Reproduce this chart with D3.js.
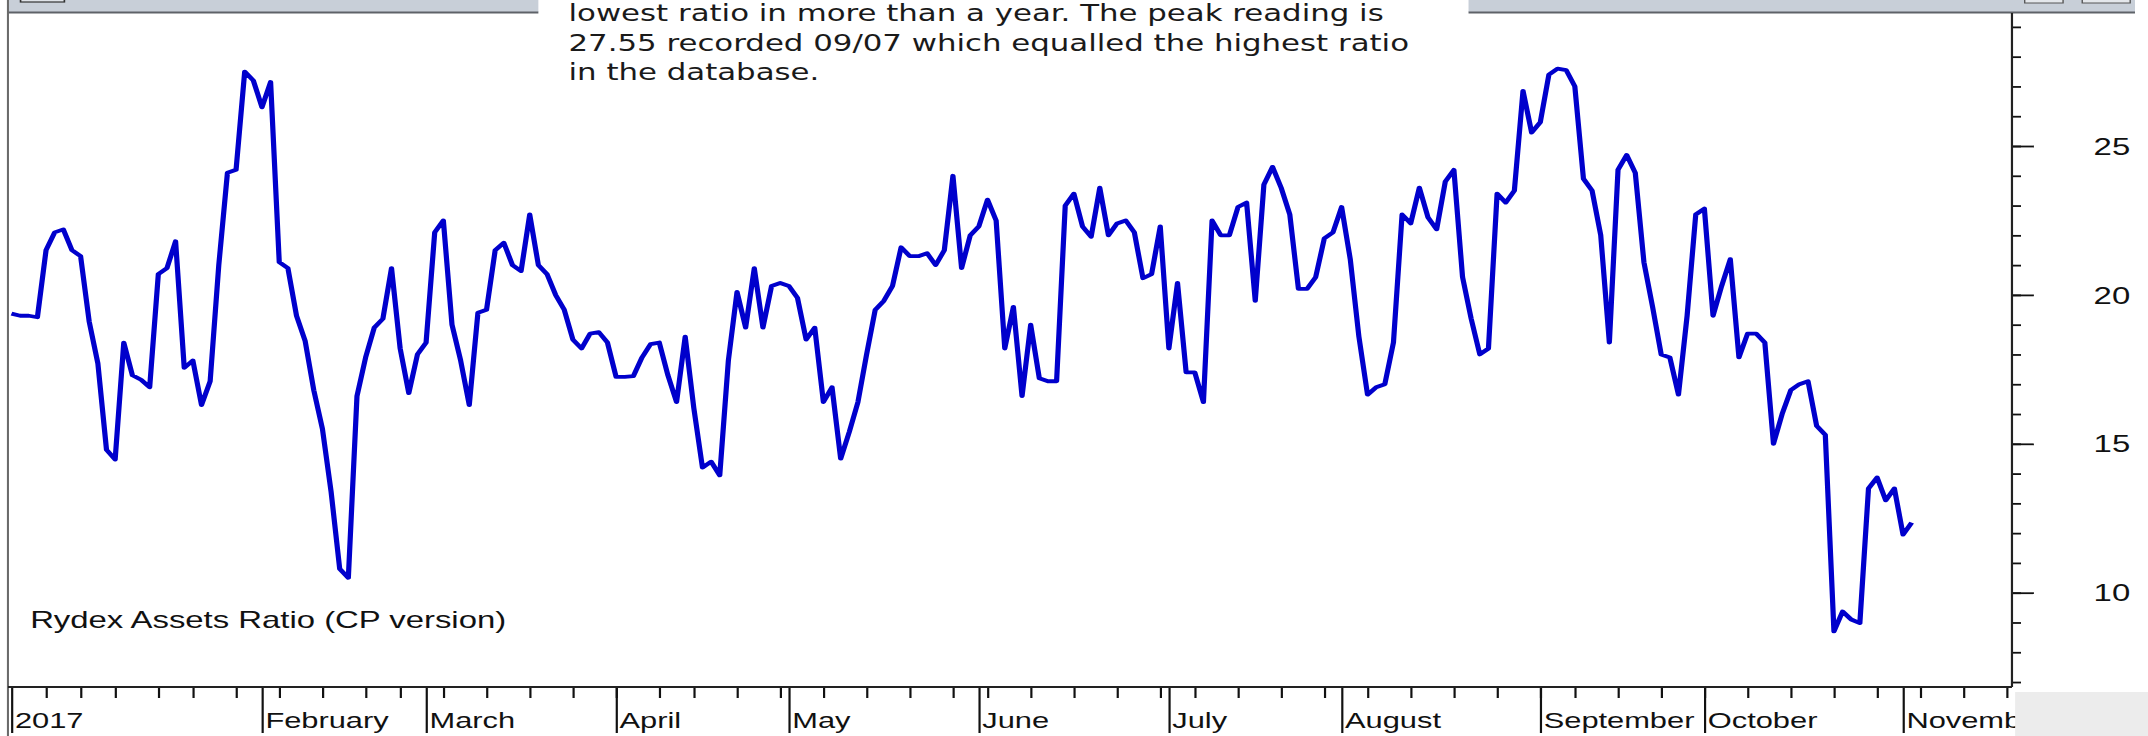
<!DOCTYPE html>
<html>
<head>
<meta charset="utf-8">
<script src="https://cdn.jsdelivr.net/npm/d3@7"></script>
<style>
  html, body { margin: 0; padding: 0; background: #fff; }
  svg { display: block; }
  .lbl { font-family: "Liberation Sans", Arial, sans-serif; fill: #111; }
  .note { font-family: "DejaVu Sans", Verdana, sans-serif; fill: #1a1a1a; }
</style>
</head>
<body>
<div id="chart"></div>
<script>
/* Rydex Assets Ratio (CP version), one value per trading session, first session 19 Dec 2016 */
var ratio = [
  19.37, 19.3, 19.3, 19.25, 21.5, 22.1, 22.2, 21.5, 21.3, 19.1,
  17.7, 14.8, 14.47, 18.4, 17.3, 17.15, 16.9, 20.7, 20.9, 21.8,
  17.55, 17.8, 16.3, 17.1, 21.0, 24.1, 24.2, 27.5, 27.2, 26.3,
  27.15, 21.1, 20.9, 19.3, 18.45, 16.8, 15.5, 13.4, 10.8, 10.5,
  16.6, 17.9, 18.9, 19.2, 20.9, 18.2, 16.7, 18.0, 18.4, 22.1,
  22.5, 19.0, 17.8, 16.3, 19.4, 19.5, 21.5, 21.75, 21.0, 20.8,
  22.7, 21.0, 20.7, 20.0, 19.5, 18.5, 18.2, 18.7, 18.75, 18.4,
  17.25, 17.25, 17.27, 17.9, 18.35, 18.4, 17.3, 16.4, 18.6, 16.2,
  14.2, 14.4, 13.94, 17.8, 20.1, 18.9, 20.9, 18.9, 20.3, 20.4,
  20.3, 19.9, 18.5, 18.9, 16.4, 16.9, 14.5, 15.4, 16.4, 18.0,
  19.5, 19.8, 20.3, 21.6, 21.3, 21.3, 21.4, 21.0, 21.5, 24.0,
  20.9, 22.0, 22.3, 23.2, 22.5, 18.2, 19.6, 16.6, 19.0, 17.2,
  17.1, 17.1, 23.0, 23.4, 22.3, 21.95, 23.6, 22.0, 22.4, 22.5,
  22.1, 20.56, 20.7, 22.3, 18.2, 20.4, 17.4, 17.4, 16.4, 22.5,
  22.0, 22.0, 22.95, 23.1, 19.8, 23.7, 24.3, 23.6, 22.7, 20.2,
  20.2, 20.6, 21.9, 22.1, 22.95, 21.2, 18.6, 16.65, 16.9, 17.0,
  18.4, 22.7, 22.4, 23.6, 22.6, 22.2, 23.8, 24.2, 20.6, 19.2,
  18.0, 18.2, 23.4, 23.1, 23.5, 26.85, 25.45, 25.8, 27.4, 27.6,
  27.55, 27.0, 23.9, 23.5, 22.0, 18.4, 24.2, 24.7, 24.1, 21.1,
  19.6, 18.0, 17.9, 16.65, 19.3, 22.7, 22.9, 19.3, 20.3, 21.2,
  17.9, 18.7, 18.7, 18.4, 15.0, 16.0, 16.8, 17.0, 17.1, 15.6,
  15.3, 8.7, 9.37, 9.1, 8.98, 13.5, 13.87, 13.1, 13.5, 11.95,
  12.35
];

/* month labels and the session each one is marked at */
var monthNames = ["2017", "February", "March", "April", "May", "June",
                  "July", "August", "September", "October", "November"];
var monthStart = [0, 29, 48, 70, 90, 112, 134, 154, 177, 196, 219];

/* last session of each week (short ticks) */
var weekEnd = [4, 8, 12, 17, 21, 26, 31, 36, 41, 45, 50, 55, 60, 65, 70, 75, 79,
               84, 89, 94, 99, 104, 109, 113, 118, 123, 128, 133, 137, 142, 147,
               152, 157, 162, 167, 172, 177, 181, 186, 191, 196, 201, 206, 211,
               216, 221, 226, 231];

/* y axis */
var yLabels = [10, 15, 20, 25];
var yMinor = d3.range(7, 30);

var noteLines = [
  "lowest ratio in more than a year. The peak reading is",
  "27.55 recorded 09/07 which equalled the highest ratio",
  "in the database."
];
var chartLabel = "Rydex Assets Ratio (CP version)";

/* the chart is drawn on a 1568 wide grid and stretched out to 2148 */
var width = 2148, height = 736,
    stretch = 2148 / 1568;

var plot = { left: 5.8, right: 1468.7, top: 13, bottom: 687 };

var svg = d3.select("#chart")
    .append("svg")
    .attr("width", width)
    .attr("height", height);

var g = svg.append("g")
    .attr("transform", "scale(" + stretch + ",1)");

/* scales */
var x = d3.scaleLinear().domain([0, 220]).range([8.39, 8.39 + 220 * 6.305]);
var y = d3.scaleLinear().domain([10, 25]).range([592.7, 146]);

/* window bits at the top */
g.append("rect").attr("x", plot.left).attr("y", 0).attr("width", 393 - plot.left).attr("height", 12)
    .attr("fill", "#c8cfd8");
g.append("line").attr("x1", plot.left).attr("x2", 393).attr("y1", 12.5).attr("y2", 12.5)
    .attr("stroke", "#5e6268").attr("stroke-width", 2);
g.append("rect").attr("x", 15).attr("y", -2).attr("width", 32).attr("height", 4)
    .attr("fill", "#dfe3e8").attr("stroke", "#333").attr("stroke-width", 1.2);

g.append("rect").attr("x", 1072).attr("y", 0).attr("width", 1558.5 - 1072).attr("height", 12)
    .attr("fill", "#c8cfd8");
g.append("line").attr("x1", 1072).attr("x2", 1558.5).attr("y1", 12.5).attr("y2", 12.5)
    .attr("stroke", "#5e6268").attr("stroke-width", 2);
[[1478, 1506], [1520, 1555]].forEach(function (b) {
    g.append("rect").attr("x", b[0]).attr("y", -2).attr("width", b[1] - b[0]).attr("height", 5)
        .attr("fill", "#e4e7eb").attr("stroke", "#555").attr("stroke-width", 1);
});

/* left frame */
g.append("line").attr("x1", plot.left).attr("x2", plot.left).attr("y1", 0).attr("y2", height)
    .attr("stroke", "#6a6a6a").attr("stroke-width", 1.5);

/* the ratio line */
var valueline = d3.line()
    .x(function (d, i) { return x(i); })
    .y(function (d) { return y(d); });

g.append("path")
    .attr("d", valueline(ratio))
    .attr("fill", "none")
    .attr("stroke", "#0000cc")
    .attr("stroke-width", 3.8)
    .attr("stroke-linejoin", "round");

/* x axis: week ticks and month ticks */
var xMinor = d3.axisBottom(x).tickValues(weekEnd).tickSize(11).tickFormat("").tickSizeOuter(0);
var xMajor = d3.axisBottom(x).tickValues(monthStart).tickSize(46).tickFormat("").tickSizeOuter(0);

[xMinor, xMajor].forEach(function (ax) {
    var a = g.append("g")
        .attr("transform", "translate(0," + plot.bottom + ")")
        .call(ax);
    a.select(".domain").remove();
    a.selectAll(".tick line").attr("stroke", "#111").attr("stroke-width", 1.6);
});

g.append("line").attr("x1", plot.left).attr("x2", plot.right).attr("y1", plot.bottom).attr("y2", plot.bottom)
    .attr("stroke", "#222").attr("stroke-width", 2);

g.selectAll(".month")
    .data(monthNames)
    .enter().append("text")
    .attr("class", "lbl")
    .attr("x", function (d, i) { return x(monthStart[i]) + 2.5; })
    .attr("y", 728)
    .attr("font-size", 22.5)
    .text(function (d) { return d; });

/* grey corner under the value axis, it hides the end of the last month name */
g.append("rect").attr("x", 1471).attr("y", 692).attr("width", 1568 - 1471).attr("height", height - 692)
    .attr("fill", "#ececec");

/* y axis on the right */
var yMinorAxis = d3.axisRight(y).tickValues(yMinor).tickSize(6.6).tickFormat("");
var yMajorAxis = d3.axisRight(y).tickValues(yLabels).tickSize(16).tickFormat("");

[yMinorAxis, yMajorAxis].forEach(function (ax) {
    var a = g.append("g")
        .attr("transform", "translate(" + plot.right + ",0)")
        .call(ax);
    a.select(".domain").remove();
    a.selectAll(".tick line").attr("stroke", "#111").attr("stroke-width", 1.8);
});

g.append("line").attr("x1", plot.right).attr("x2", plot.right).attr("y1", plot.top).attr("y2", plot.bottom)
    .attr("stroke", "#222").attr("stroke-width", 1.6);

g.selectAll(".ylab")
    .data(yLabels)
    .enter().append("text")
    .attr("class", "lbl")
    .attr("x", 1555)
    .attr("y", function (d) { return y(d); })
    .attr("dy", "0.36em")
    .attr("text-anchor", "end")
    .attr("font-size", 24)
    .text(function (d) { return d; });

/* series label inside the plot */
g.append("text")
    .attr("class", "lbl")
    .attr("x", 22)
    .attr("y", 628)
    .attr("font-size", 24)
    .text(chartLabel);

/* annotation box at the top */
g.selectAll(".note")
    .data(noteLines)
    .enter().append("text")
    .attr("class", "note")
    .attr("x", 415)
    .attr("y", function (d, i) { return 21.5 + i * 29.5; })
    .attr("font-size", 22.5)
    .text(function (d) { return d; });
</script>
</body>
</html>
